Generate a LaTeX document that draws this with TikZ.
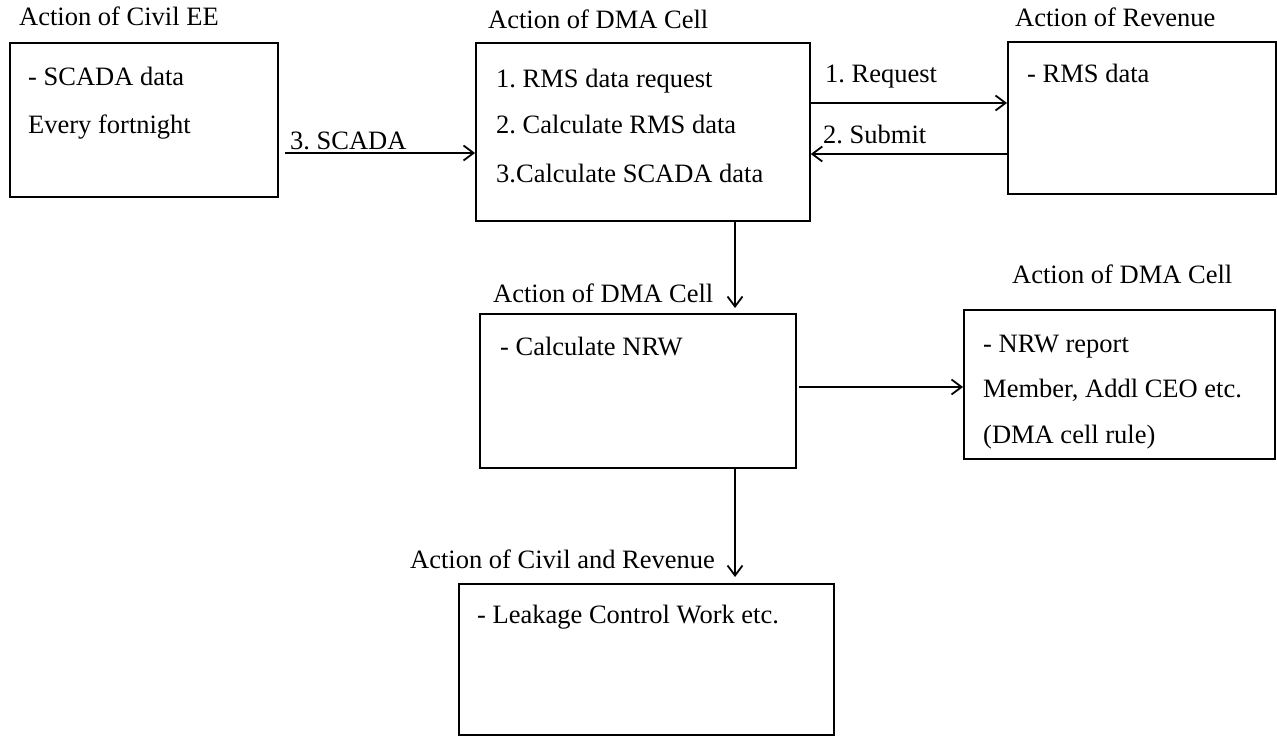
\documentclass[tikz,border=0pt]{standalone}
\usepackage{fontspec}
\setmainfont{Liberation Serif}
\usetikzlibrary{arrows.meta}
\frenchspacing
\begin{document}
\begin{tikzpicture}[x=1pt,y=-1pt,
  box/.style={draw, line width=1.8pt, rectangle, inner sep=0pt, anchor=north west},
  txt/.style={anchor=base west, inner sep=0pt, font=\fontsize{26.5}{31}\selectfont},
  flow/.style={line width=1.8pt, -{Straight Barb[length=10pt,width=15pt,line width=1.8pt]}}]
\useasboundingbox (0,0) rectangle (1277,736);

% boxes
\node[box, minimum width=268pt, minimum height=154pt] (civil) at (9,42) {};
\node[box, minimum width=334pt, minimum height=178pt] (dma) at (475,42) {};
\node[box, minimum width=268pt, minimum height=152pt] (rev) at (1007,41) {};
\node[box, minimum width=316pt, minimum height=154pt] (nrw) at (479,313) {};
\node[box, minimum width=311pt, minimum height=149pt] (report) at (963,309) {};
\node[box, minimum width=375pt, minimum height=151pt] (leak) at (458,583) {};

% titles
\node[txt] (tcivil) at (19,25) {Action of Civil EE};
\node[txt] (tdma) at (488,28) {Action of DMA Cell};
\node[txt] (trev) at (1015,27) {Action of Revenue};
\node[txt] (tnrw) at (493,302) {Action of DMA Cell};
\node[txt] (treport) at (1012,283) {Action of DMA Cell};
\node[txt] (tleak) at (410,568) {Action of Civil and Revenue};

% box contents
\node[txt] (c1) at (28,85) {- SCADA data};
\node[txt] (c2) at (28,133) {Every fortnight};
\node[txt] (d1) at (496,87) {1. RMS data request};
\node[txt] (d2) at (496,133) {2. Calculate RMS data};
\node[txt] (d3) at (496,182) {3.Calculate SCADA data};
\node[txt] (r1) at (1027,82) {- RMS data};
\node[txt] (n1) at (500,355) {- Calculate NRW};
\node[txt] (p1) at (983,352) {- NRW report};
\node[txt] (p2) at (983,397) {Member, Addl CEO etc.};
\node[txt] (p3) at (983,443) {(DMA cell rule)};
\node[txt] (l1) at (477,623) {- Leakage Control Work etc.};

% connector labels
\node[txt] (lscada) at (290,149) {3. SCADA};
\node[txt] (lreq) at (825,82) {1. Request};
\node[txt] (lsub) at (823,143) {2. Submit};

% connectors
\draw[flow] ([xshift=6pt]civil.east |- 0,153) -- (dma.west |- 0,153);
\draw[flow] (dma.east |- 0,103) -- (rev.west |- 0,103);
\draw[flow] (rev.west |- 0,154) -- (dma.east |- 0,154);
\draw[flow, shorten >=5pt] (dma.south -| 735,0) -- (nrw.north -| 735,0);
\draw[flow] ([xshift=2pt]nrw.east |- 0,387) -- (report.west |- 0,387);
\draw[flow, shorten >=6pt] (nrw.south -| 735,0) -- (leak.north -| 735,0);
\end{tikzpicture}
\end{document}
